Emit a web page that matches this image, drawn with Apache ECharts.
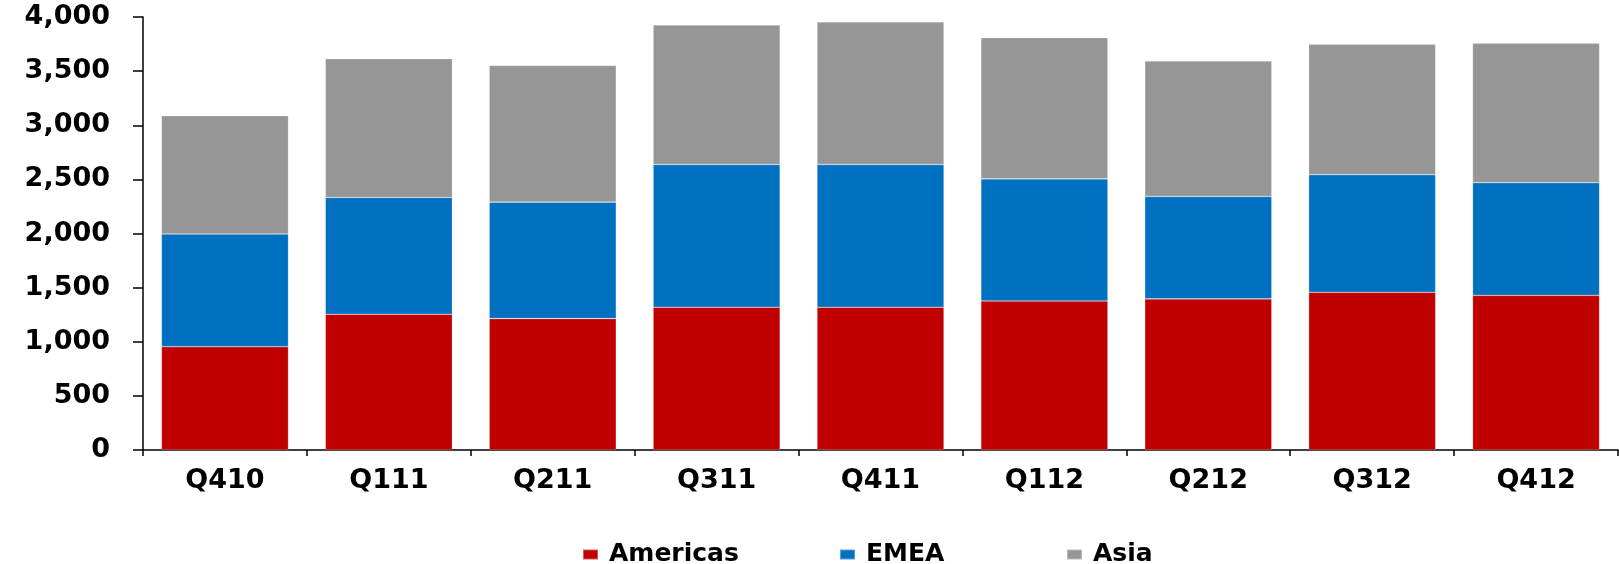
<!DOCTYPE html>
<html>
<head>
<meta charset="utf-8">
<script src="https://cdn.jsdelivr.net/npm/echarts@6/dist/echarts.min.js"></script>
<style>
html,body{margin:0;padding:0;background:#fff;}
#chart{width:1619px;height:564px;}
</style>
</head>
<body>
<div id="chart"></div>
<script>
const categories = ['Q410','Q111','Q211','Q311','Q411','Q112','Q212','Q312','Q412'];
const seriesNames = ['Americas','EMEA','Asia'];
const americas = [954, 1254, 1214, 1319, 1319, 1377, 1396, 1457, 1429];
const emea     = [1041, 1079, 1076, 1319, 1319, 1128, 946, 1086, 1040];
const asia     = [1093, 1282, 1263, 1288, 1316, 1304, 1251, 1205, 1288];
const yTicks = { min: 0, max: 4000, interval: 500 };

const font = 'DejaVu Sans';
const colors = ['#C00000', '#0070C0', '#969696'];
const legendLeft = [577, 834, 1061];
const chart = echarts.init(document.getElementById('chart'), null, {renderer:'canvas'});
function bar(name, data, color){
  return {
    name, type:'bar', stack:'total', data,
    barCategoryGap:'22.5%',
    itemStyle:{color, borderColor:'rgba(255,255,255,0.35)', borderWidth:0.6},
    emphasis:{disabled:true}
  };
}
chart.setOption({
  animation:false,
  grid:{left:143, right:1, top:17, bottom:114, containLabel:false},
  legend: seriesNames.map((n, i) => ({
    data:[n], left:legendLeft[i], top:537, itemWidth:15, itemHeight:10,
    icon:'rect', selectedMode:false,
    textStyle:{fontFamily:font, fontWeight:'bold', fontSize:25, color:'#000', padding:[0,0,0,6]}
  })),
  xAxis:{
    type:'category', data:categories,
    axisLine:{lineStyle:{color:'#000', width:1.5}},
    axisTick:{show:true, length:6, lineStyle:{color:'#000', width:1.5}},
    axisLabel:{margin:17, color:'#000', fontFamily:font, fontWeight:'bold', fontSize:27}
  },
  yAxis:{
    type:'value', min:yTicks.min, max:yTicks.max, interval:yTicks.interval,
    splitLine:{show:false},
    axisLine:{show:true, lineStyle:{color:'#000', width:1.5}},
    axisTick:{show:true, length:10, lineStyle:{color:'#000', width:1.5}},
    axisLabel:{margin:33, color:'#000', fontFamily:font, fontWeight:'bold', fontSize:27,
      formatter:v=>v.toLocaleString('en-US')}
  },
  series:[
    bar(seriesNames[0], americas, colors[0]),
    bar(seriesNames[1], emea, colors[1]),
    bar(seriesNames[2], asia, colors[2])
  ]
});
</script>
</body>
</html>
